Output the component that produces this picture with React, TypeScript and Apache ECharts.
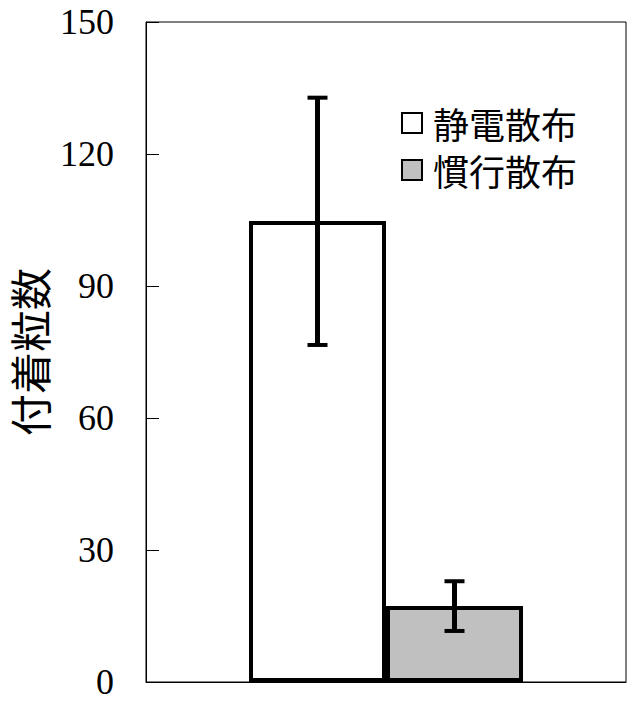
import { useEffect, useRef } from 'react';
import * as echarts from 'echarts';

// 系列名・平均値・誤差範囲
const seriesNames = ['静電散布', '慣行散布'];
const meanValues = [104.8, 17.3];
const errLow = [76.6, 11.6];
const errHigh = [132.8, 22.9];
const barColors = ['#ffffff', '#c0c0c0'];
const yMin = 0;
const yMax = 150;
const yStep = 30;

const BAR_W = 137;

export default function App() {
    const chartRef = useRef<HTMLDivElement>(null);

    useEffect(() => {
        document.body.style.margin = '0';
        if (!chartRef.current) return;
        const chart = echarts.init(chartRef.current, undefined, { renderer: 'svg' });

        const bars = seriesNames.map((name, i) => ({
            name,
            type: 'bar',
            data: [meanValues[i]],
            barWidth: BAR_W,
            barGap: '0%',
            itemStyle: { color: barColors[i], borderColor: '#000', borderWidth: 4 },
            silent: true,
        }));

        // 誤差棒
        const errorBars = {
            type: 'custom',
            silent: true,
            z: 5,
            data: seriesNames.map((_, i) => [0, errLow[i], errHigh[i], i]),
            renderItem: (_params: any, api: any) => {
                const idx = api.value(3);
                const off = (idx === 0 ? -1 : 1) * BAR_W / 2;
                const lo = api.coord([api.value(0), api.value(1)]);
                const hi = api.coord([api.value(0), api.value(2)]);
                const x = lo[0] + off;
                const cap = 10;
                const style = { stroke: '#000', lineWidth: 4 };
                return {
                    type: 'group',
                    children: [
                        { type: 'line', shape: { x1: x, y1: lo[1], x2: x, y2: hi[1] }, style: { stroke: '#000', lineWidth: 5 } },
                        { type: 'line', shape: { x1: x - cap, y1: hi[1], x2: x + cap, y2: hi[1] }, style },
                        { type: 'line', shape: { x1: x - cap, y1: lo[1], x2: x + cap, y2: lo[1] }, style },
                    ],
                };
            },
        };

        chart.setOption({
            animation: false,
            grid: {
                left: 146, right: 11, top: 22, bottom: 21,
                outerBoundsMode: 'none',
                show: true, borderColor: '#000', borderWidth: 1,
            },
            legend: {
                orient: 'vertical',
                left: 396,
                top: 100,
                itemWidth: 20,
                itemHeight: 20,
                itemGap: 11,
                icon: 'rect',
                data: seriesNames,
                textStyle: {
                    fontFamily: 'Noto Sans CJK JP',
                    fontSize: 36,
                    lineHeight: 36,
                    color: '#000',
                    padding: [0, 0, 0, 6],
                },
                selectedMode: false,
            },
            xAxis: {
                type: 'category',
                data: [''],
                axisLine: { show: true, lineStyle: { color: '#000', width: 1 } },
                axisTick: { show: false },
                axisLabel: { show: false },
            },
            yAxis: {
                type: 'value',
                min: yMin,
                max: yMax,
                interval: yStep,
                name: '付着粒数',
                nameLocation: 'middle',
                nameGap: 92,
                nameRotate: 90,
                nameTextStyle: { fontFamily: 'Noto Sans CJK JP', fontSize: 42, lineHeight: 42, color: '#000' },
                axisLine: { show: true, lineStyle: { color: '#000', width: 1 } },
                axisTick: { show: true, inside: true, length: 13, lineStyle: { color: '#000' } },
                axisLabel: {
                    margin: 32,
                    fontFamily: 'Liberation Serif',
                    fontSize: 36,
                    lineHeight: 36,
                    color: '#000',
                },
                splitLine: { show: false },
            },
            series: [...bars, errorBars],
        });

        return () => {
            chart.dispose();
        };
    }, []);

    return <div ref={chartRef} style={{ width: 637, height: 703 }} />;
}
